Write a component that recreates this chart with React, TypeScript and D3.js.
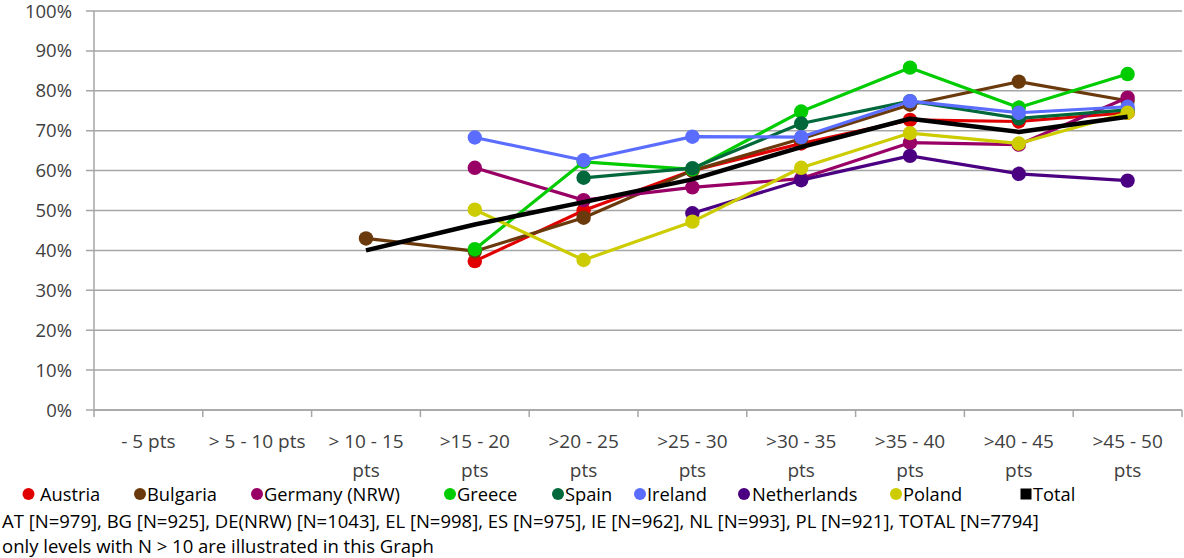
import React from "react";
import * as d3 from "d3";

const categories = ["- 5 pts", "> 5 - 10 pts", "> 10 - 15 pts", ">15 - 20 pts", ">20 - 25 pts", ">25 - 30 pts", ">30 - 35 pts", ">35 - 40 pts", ">40 - 45 pts", ">45 - 50 pts"];
const categoryLines = [["- 5 pts"], ["> 5 - 10 pts"], ["> 10 - 15", "pts"], [">15 - 20", "pts"], [">20 - 25", "pts"], [">25 - 30", "pts"], [">30 - 35", "pts"], [">35 - 40", "pts"], [">40 - 45", "pts"], [">45 - 50", "pts"]];
const yTicks = [0, 0.1, 0.2, 0.3, 0.4, 0.5, 0.6, 0.7, 0.8, 0.9, 1.0];

const austria = [null, null, null, 0.373, 0.500, 0.600, 0.668, 0.727, 0.723, 0.745];
const bulgaria = [null, null, 0.430, 0.398, 0.482, 0.600, 0.680, 0.765, 0.823, 0.775];
const germany = [null, null, null, 0.607, 0.526, 0.558, 0.580, 0.670, 0.665, 0.783];
const greece = [null, null, null, 0.403, 0.622, 0.603, 0.748, 0.858, 0.758, 0.842];
const spain = [null, null, null, null, 0.582, 0.606, 0.718, 0.774, 0.731, 0.752];
const ireland = [null, null, null, 0.683, 0.626, 0.685, 0.684, 0.774, 0.745, 0.760];
const netherlands = [null, null, null, null, null, 0.493, 0.576, 0.637, 0.592, 0.575];
const poland = [null, null, null, 0.502, 0.376, 0.472, 0.607, 0.694, 0.668, 0.745];
const total = [null, null, 0.400, 0.465, 0.521, 0.578, 0.659, 0.730, 0.697, 0.735];

const seriesNames = ["Austria", "Bulgaria", "Germany (NRW)", "Greece", "Spain", "Ireland", "Netherlands", "Poland", "Total"];
const seriesValues = [austria, bulgaria, germany, greece, spain, ireland, netherlands, poland, total];
const seriesColors = ["#e00000", "#6b3a0c", "#990066", "#00cc00", "#00683a", "#5b6dff", "#4b0082", "#cccc00", "#000000"];

const footnotes = [
  "AT [N=979], BG [N=925], DE(NRW) [N=1043], EL [N=998], ES [N=975], IE [N=962], NL [N=993], PL [N=921], TOTAL [N=7794]",
  "only levels with N > 10 are illustrated in this Graph",
];

const W = 1184;
const H = 558;
const FONT = "'Open Sans', 'Noto Sans', sans-serif";

export default function App() {
  const x = d3.scaleBand<string>().domain(categories).range([94, 1182]);
  const y = d3.scaleLinear().domain([0, 1]).range([410, 11]);
  const cx = (i: number) => (x(categories[i]) as number) + x.bandwidth() / 2;
  const grid = "#a6a6a6";

  const line = d3
    .line<number | null>()
    .defined((d) => d !== null)
    .x((_, i) => cx(i))
    .y((d) => y(d as number));

  const legendX = [28.5, 140, 257, 450, 558, 640, 744, 896, 1026];
  const legendTextX = [40, 147, 264, 457, 565, 647, 752, 903, 1033];

  return (
    <svg width={W} height={H} style={{ position: "absolute", left: 0, top: 0, background: "#fff" }} fontFamily={FONT}>
      {/* gridlines */}
      {yTicks.map((t) => (
        <g key={t}>
          <line x1={86} x2={1182} y1={y(t)} y2={y(t)} stroke={grid} strokeWidth={1.5} />
          <text x={72} y={y(t) + 6.5} textAnchor="end" fontSize={18.5} fill="#404040">
            {d3.format(".0%")(t)}
          </text>
        </g>
      ))}
      {/* y axis */}
      <line x1={94} x2={94} y1={y(1)} y2={y(0)} stroke={grid} strokeWidth={1.5} />
      {/* x axis */}
      <line x1={94} x2={1182} y1={y(0)} y2={y(0)} stroke={grid} strokeWidth={1.5} />
      {categories.map((c) => (
        <line key={c} x1={(x(c) as number) + x.bandwidth()} x2={(x(c) as number) + x.bandwidth()} y1={y(0)} y2={y(0) + 7} stroke={grid} strokeWidth={1.5} />
      ))}
      <line x1={94} x2={94} y1={y(0)} y2={y(0) + 7} stroke={grid} strokeWidth={1.5} />
      {categoryLines.map((ls, i) => (
        <text key={i} x={cx(i)} textAnchor="middle" fontSize={19} fill="#404040">
          {ls.map((l, j) => (
            <tspan key={j} x={cx(i)} y={448 + j * 29}>
              {l}
            </tspan>
          ))}
        </text>
      ))}
      {/* series */}
      {seriesValues.map((vals, si) => {
        const isTotal = si === seriesValues.length - 1;
        return (
          <g key={si}>
            <path d={line(vals) || ""} fill="none" stroke={seriesColors[si]} strokeWidth={isTotal ? 4.5 : 3.2} strokeLinejoin="round" />
            {!isTotal &&
              vals.map((v, i) =>
                v === null ? null : <circle key={i} cx={cx(i)} cy={y(v)} r={7.2} fill={seriesColors[si]} />
              )}
          </g>
        );
      })}
      {/* legend */}
      {seriesNames.map((n, i) => (
        <g key={n}>
          {i === seriesNames.length - 1 ? (
            <rect x={legendX[i] - 5.5} y={488.5} width={11} height={11} fill={seriesColors[i]} />
          ) : (
            <circle cx={legendX[i]} cy={494} r={6} fill={seriesColors[i]} />
          )}
          <text x={legendTextX[i]} y={500.5} fontSize={18.3} fill="#000">
            {n}
          </text>
        </g>
      ))}
      {footnotes.map((f, i) => (
        <text key={i} x={2} y={527.5 + i * 25} fontSize={18.5} fill="#000">
          {f}
        </text>
      ))}
    </svg>
  );
}
